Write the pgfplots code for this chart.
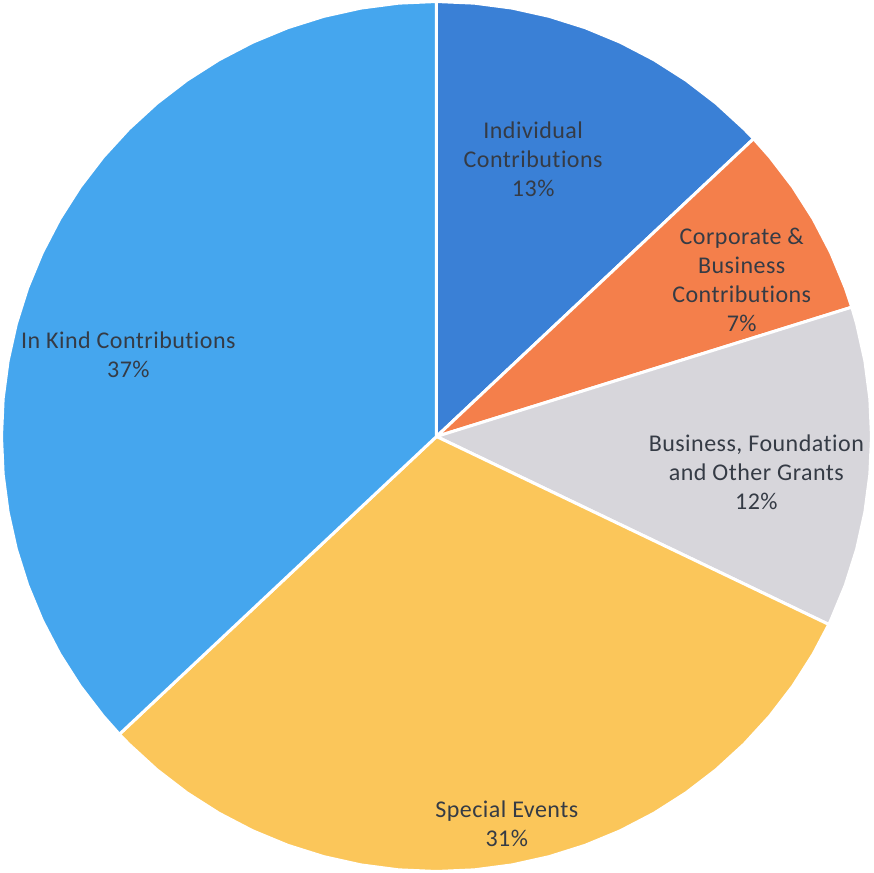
\documentclass[border=0pt]{standalone}
\usepackage{pgfplots}
\pgfplotsset{compat=1.18}
\usepgfplotslibrary{polar}
\usepackage{fontspec}
\setmainfont{Carlito}[LetterSpace=2, Ligatures=NoCommon]
\definecolor{cIndiv}{HTML}{3A80D6}
\definecolor{cCorp}{HTML}{F47F4B}
\definecolor{cGrant}{HTML}{D7D6DB}
\definecolor{cSpec}{HTML}{FBC65A}
\definecolor{cKind}{HTML}{45A6EE}
\definecolor{lbl}{HTML}{353B45}
\begin{document}
\begin{tikzpicture}
\begin{polaraxis}[
    width=870pt, height=870pt,
    scale only axis,
    ymin=0, ymax=1,
    enlargelimits=false,
    hide axis,
    clip=false,
    every axis plot/.append style={draw=white, line width=3pt, line join=round},
    nodes={font=\fontsize{24}{29}\selectfont, text=lbl, align=center},
    ]
    % slices clockwise from 12 o'clock: 13, 7.2, 11.9, 30.9, 37.0 (%)
    \addplot[fill=cIndiv] coordinates {(0,0) (90,1) (85,1) (80,1) (75,1) (70,1) (65,1) (60,1) (55,1) (50,1) (45,1) (43.2,1) (0,0)};
    \addplot[fill=cCorp] coordinates {(0,0) (43.2,1) (40,1) (35,1) (30,1) (25,1) (20,1) (17.3,1) (0,0)};
    \addplot[fill=cGrant] coordinates {(0,0) (17.3,1) (15,1) (10,1) (5,1) (0,1) (-5,1) (-10,1) (-15,1) (-20,1) (-25,1) (-25.6,1) (0,0)};
    \addplot[fill=cSpec] coordinates {(0,0) (-25.6,1) (-30,1) (-35,1) (-40,1) (-45,1) (-50,1) (-55,1) (-60,1) (-65,1) (-70,1) (-75,1) (-80,1) (-85,1) (-90,1) (-95,1) (-100,1) (-105,1) (-110,1) (-115,1) (-120,1) (-125,1) (-130,1) (-135,1) (-136.8,1) (0,0)};
    \addplot[fill=cKind] coordinates {(0,0) (-136.8,1) (-140,1) (-145,1) (-150,1) (-155,1) (-160,1) (-165,1) (-170,1) (-175,1) (-180,1) (-185,1) (-190,1) (-195,1) (-200,1) (-205,1) (-210,1) (-215,1) (-220,1) (-225,1) (-230,1) (-235,1) (-240,1) (-245,1) (-250,1) (-255,1) (-260,1) (-265,1) (-270,1) (0,0)};
    \node at (axis cs:70.8,0.676) {Individual\\Contributions\\13\%};
    \node at (axis cs:27.2,0.789) {Corporate \&\\Business\\Contributions\\7\%};
    \node at (axis cs:-6.4,0.74) {Business, Foundation\\and Other Grants\\12\%};
    \node at (axis cs:-79.7,0.904) {Special Events\\31\%};
    \node at (axis cs:165.1,0.733) {In Kind Contributions\\37\%};
\end{polaraxis}
\end{tikzpicture}
\end{document}
